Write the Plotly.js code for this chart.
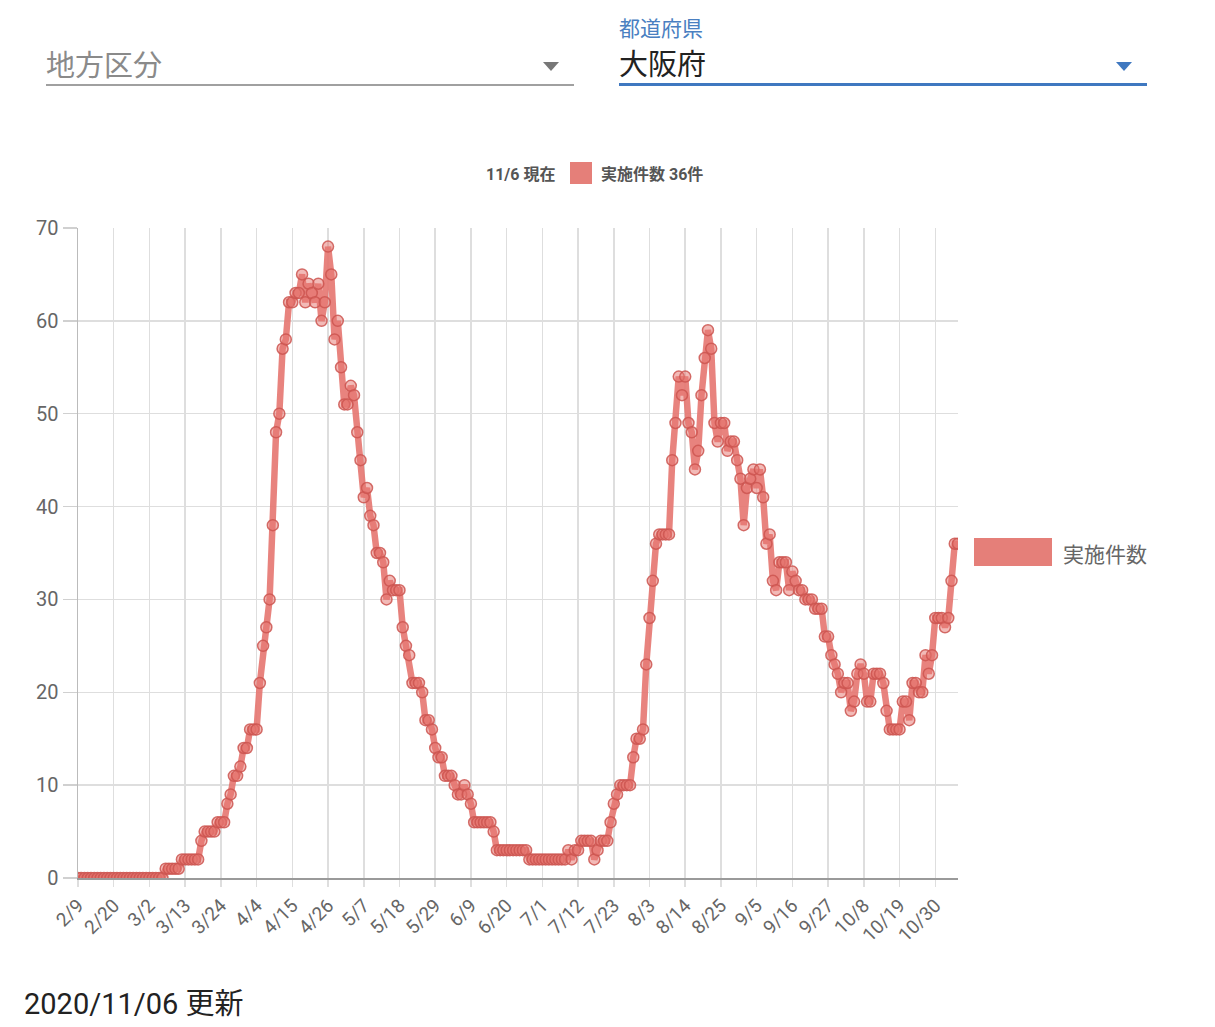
<!DOCTYPE html>
<html>
<head>
<meta charset="utf-8">
<script src="https://cdn.plot.ly/plotly-3.0.1.min.js"></script>
<style>
  html, body { margin:0; padding:0; background:#fff; width:1215px; height:1027px; overflow:hidden;
    font-family: Roboto, "Noto Sans CJK JP", sans-serif; }
  #chart { position:absolute; left:0; top:0; width:1215px; height:1027px; }
  .abs { position:absolute; white-space:nowrap; }
  .jp { font-family: Roboto, "Noto Sans CJK JP", sans-serif; }
</style>
</head>
<body>
<div id="chart"></div>

<!-- select: 地方区分 -->
<div class="abs jp" style="left:46px; top:42px; font-size:29px; color:#8a8a8a;">地方区分</div>
<div class="abs" style="left:543px; top:62px; width:0; height:0; border-left:8px solid transparent; border-right:8px solid transparent; border-top:9px solid #777;"></div>
<div class="abs" style="left:46px; top:84px; width:528px; height:2px; background:#a0a0a0;"></div>

<!-- select: 都道府県 -->
<div class="abs jp" style="left:619px; top:12px; font-size:21px; color:#4a7fc1;">都道府県</div>
<div class="abs jp" style="left:619px; top:41px; font-size:29px; color:#222;">大阪府</div>
<div class="abs" style="left:1116px; top:62px; width:0; height:0; border-left:8px solid transparent; border-right:8px solid transparent; border-top:9px solid #3f78c0;"></div>
<div class="abs" style="left:619px; top:83px; width:528px; height:3px; background:#3f78c0;"></div>

<!-- chart header -->
<div class="abs jp" style="left:486px; top:161px; font-size:16px; font-weight:bold; color:#555;">11/6 現在</div>
<div class="abs" style="left:570px; top:162px; width:22px; height:22px; background:#e57f79;"></div>
<div class="abs jp" style="left:601px; top:161px; font-size:16px; font-weight:bold; color:#555;">実施件数 36件</div>

<!-- footer -->
<div class="abs jp" style="left:24px; top:980px; font-size:29px; color:#222;">2020/11/06 更新</div>

<script>
// ---- data ----
const startDate = '2020-02-09';
const seriesName = '実施件数';
const values = [
  0,0,0,0,0,0,0,0,0,0,
  0,0,0,0,0,0,0,0,0,0,
  0,0,0,0,0,0,0,1,1,1,
  1,1,2,2,2,2,2,2,4,5,
  5,5,5,6,6,6,8,9,11,11,
  12,14,14,16,16,16,21,25,27,30,
  38,48,50,57,58,62,62,63,63,65,
  62,64,63,62,64,60,62,68,65,58,
  60,55,51,51,53,52,48,45,41,42,
  39,38,35,35,34,30,32,31,31,31,
  27,25,24,21,21,21,20,17,17,16,
  14,13,13,11,11,11,10,9,9,10,
  9,8,6,6,6,6,6,6,5,3,
  3,3,3,3,3,3,3,3,3,2,
  2,2,2,2,2,2,2,2,2,2,
  2,3,2,3,3,4,4,4,4,2,
  3,4,4,4,6,8,9,10,10,10,
  10,13,15,15,16,23,28,32,36,37,
  37,37,37,45,49,54,52,54,49,48,
  44,46,52,56,59,57,49,47,49,49,
  46,47,47,45,43,38,42,43,44,42,
  44,41,36,37,32,31,34,34,34,31,
  33,32,31,31,30,30,30,29,29,29,
  26,26,24,23,22,20,21,21,18,19,
  22,23,22,19,19,22,22,22,21,18,
  16,16,16,16,19,19,17,21,21,20,
  20,24,22,24,28,28,28,27,28,32,
  36,36
];
const tickLabels = ['2/9','2/20','3/2','3/13','3/24','4/4','4/15','4/26','5/7','5/18','5/29','6/9','6/20',
  '7/1','7/12','7/23','8/3','8/14','8/25','9/5','9/16','9/27','10/8','10/19','10/30'];
const yTicks = [0,10,20,30,40,50,60,70];

// ---- build date axis from calendar ----
function pad(n){ return (n<10?'0':'')+n; }
function iso(d){ return d.getUTCFullYear()+'-'+pad(d.getUTCMonth()+1)+'-'+pad(d.getUTCDate()); }
const dates = [];
const s = new Date(startDate+'T00:00:00Z');
for (let i=0;i<values.length;i++){ const d=new Date(s.getTime()+i*86400000); dates.push(iso(d)); }
const tickVals = tickLabels.map(t => { const [m,d]=t.split('/').map(Number); return '2020-'+pad(m)+'-'+pad(d); });

const lineColor = 'rgba(229,118,112,0.9)';

const trace = {
  x: dates, y: values, type:'scatter', mode:'lines+markers', name: seriesName, showlegend:false,
  line:{color: lineColor, width:6.5},
  marker:{symbol:'circle', size:11, color:'rgba(229,118,112,0.5)', line:{color:'rgba(205,85,80,0.85)', width:1.5}},
  hoverinfo:'skip'
};

const L=78, R=958, T=228, B=878;
const W=1215, H=1027;
const px = x => (x-L)/(R-L);
const py = y => (B-y)/(B-T);

const layout = {
  width:W, height:H,
  margin:{l:L, r:W-R, t:T, b:H-B, pad:0},
  paper_bgcolor:'rgba(0,0,0,0)', plot_bgcolor:'#fff',
  font:{family:'Roboto, "Noto Sans CJK JP", sans-serif', color:'#666'},
  showlegend:false,
  xaxis:{
    type:'date', range:[dates[0], dates[dates.length-1]],
    tickmode:'array', tickvals:tickVals, ticktext:tickLabels, tickangle:-45,
    tickfont:{size:19, color:'#666'},
    showgrid:true, gridcolor:'#dedede', gridwidth:1.5,
    ticks:'outside', ticklen:7, tickcolor:'#dedede', tickwidth:1.5,
    showline:true, linecolor:'#9a9a9a', linewidth:2,
    zeroline:false, fixedrange:true
  },
  yaxis:{
    range:[0,70], tickmode:'array', tickvals:yTicks, ticktext:yTicks.map(String),
    tickfont:{size:20, color:'#666'},
    showgrid:true, gridcolor:'#dedede', gridwidth:1.5,
    ticks:'outside', ticklen:14, tickcolor:'#d0d0d0', tickwidth:1.5,
    showline:true, linecolor:'#bbb', linewidth:1.5,
    zeroline:false, fixedrange:true
  },
  shapes:[
    {type:'rect', xref:'paper', yref:'paper', x0:px(974), x1:px(1052), y0:py(566), y1:py(538),
     fillcolor:'#e57f79', line:{width:0}}
  ],
  annotations:[
    {xref:'paper', yref:'paper', x:px(1061), y:py(553), xanchor:'left', yanchor:'middle',
     text:seriesName, showarrow:false, font:{size:21, color:'#666', family:'"Noto Sans CJK JP", sans-serif'}}
  ]
};

Plotly.newPlot('chart', [trace], layout, {displayModeBar:false, staticPlot:true});
</script>
</body>
</html>
